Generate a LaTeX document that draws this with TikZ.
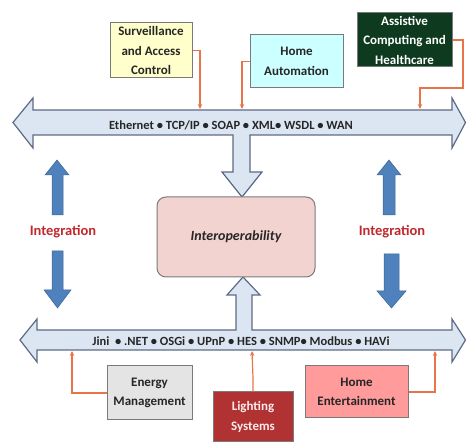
\documentclass[tikz,border=0pt]{standalone}
\usepackage{fontspec}
\setmainfont{Carlito}
\usetikzlibrary{arrows.meta}
\definecolor{busfill}{HTML}{DCE6F2}
\definecolor{busline}{HTML}{5B6B85}
\definecolor{bluearr}{HTML}{4F81BD}
\definecolor{bluedark}{HTML}{3A6496}
\definecolor{conn}{HTML}{E8744A}
\definecolor{intred}{HTML}{C0282D}
\definecolor{interfill}{HTML}{F2D3D0}
\definecolor{boxline}{HTML}{7A7A7A}
\definecolor{survfill}{HTML}{FFFFCC}
\definecolor{hafill}{HTML}{CCFFFF}
\definecolor{acfill}{HTML}{0E3B1F}
\definecolor{emfill}{HTML}{E4E4E4}
\definecolor{lsfill}{HTML}{B03232}
\definecolor{hefill}{HTML}{FF9B9B}
\definecolor{txt}{HTML}{262626}
\tikzset{
  bus/.style={draw=busline, fill=busfill, line width=1.2pt, line join=miter},
  blk/.style={draw=boxline, line width=1pt, align=center, font=\bfseries\fontsize{13}{19.5}\selectfont, inner sep=0pt},
  conn/.style={draw=conn, line width=1.2pt, -{Stealth[length=5pt,width=4.5pt]}},
  intarr/.style={fill=bluearr, draw=bluedark, line width=0.5pt},
  intlabel/.style={text=intred, font=\bfseries\fontsize{14.5}{16}\selectfont},
  bustext/.style={text=txt, font=\bfseries\fontsize{12.5}{14}\selectfont}
}
\begin{document}
\begin{tikzpicture}[x=1pt,y=-1pt]
\useasboundingbox (0,0) rectangle (467,443);
% top bus with down stem
\draw[bus] (13,122.5) -- (33,98) -- (33,110) -- (452,110) -- (452,98) -- (465.5,122.5)
  -- (452,148) -- (452,135) -- (250,135) -- (250,172) -- (262,172) -- (242,197)
  -- (222,172) -- (233,172) -- (233,135) -- (33,135) -- (33,148) -- cycle;
\node[bustext] (topt) at (231,125) {Ethernet • TCP/IP • SOAP • XML• WSDL • WAN};
% bottom bus with up stem
\draw[bus] (20,340) -- (37,319) -- (37,330) -- (236,330) -- (236,295) -- (227,295)
  -- (243,277) -- (260,295) -- (252,295) -- (252,330) -- (452,330) -- (452,319)
  -- (465.5,340) -- (452,362) -- (452,350) -- (37,350) -- (37,362) -- cycle;
\node[bustext] (bott) at (241,341) {Jini \ • .NET • OSGi • UPnP • HES • SNMP• Modbus • HAVi};
% interoperability
\node[draw=boxline, fill=interfill, line width=1pt, rounded corners=9pt,
  minimum width=158pt, minimum height=80pt, text=txt,
  font=\bfseries\itshape\fontsize{14}{16}\selectfont] (inter) at (236,237) {Interoperability};
% integration arrows
\draw[intarr] (45,175) -- (57,160) -- (69,175) -- (63,175) -- (63,215) -- (52,215) -- (52,175) -- cycle;
\draw[intarr] (52,251) -- (63,251) -- (63,290) -- (71,290) -- (57.5,308) -- (44,290) -- (52,290) -- cycle;
\node[intlabel] (intl) at (63,232) {Integration};
\draw[intarr] (377,175) -- (389,160) -- (401,175) -- (395,175) -- (395,215) -- (383,215) -- (383,175) -- cycle;
\draw[intarr] (384,254) -- (399,254) -- (399,291) -- (406,291) -- (391.5,308) -- (377,291) -- (384,291) -- cycle;
\node[intlabel] (intr) at (392,232) {Integration};
% top boxes
\node[blk, fill=survfill, text=txt, minimum width=82pt, minimum height=55pt] (surv) at (151,50.5) {Surveillance\\and Access\\Control};
\node[blk, fill=hafill, text=txt, minimum width=93pt, minimum height=53pt] (ha) at (296.5,61.5) {Home\\Automation};
\node[blk, fill=acfill, text=white, minimum width=95pt, minimum height=54pt] (ac) at (404.5,40) {Assistive\\Computing~and\\Healthcare};
% bottom boxes
\node[blk, fill=emfill, text=txt, minimum width=85pt, minimum height=54pt] (em) at (149.5,393) {Energy\\Management};
\node[blk, fill=lsfill, text=white!92!red, minimum width=80pt, minimum height=50pt] (ls) at (253,417) {Lighting\\Systems};
\node[blk, fill=hefill, text=txt, minimum width=103pt, minimum height=52pt] (he) at (356.5,392) {Home\\Entertainment};
% bus attach points
\coordinate (svb) at (200,109);
\coordinate (hab) at (242,109);
\coordinate (acb) at (420,109);
\coordinate (emb) at (72,351);
\coordinate (lsb) at (252,351);
\coordinate (heb) at (435,351);
% connectors
\draw[conn] (surv.east) -| (svb);
\draw[conn] (ha.west) -| (hab);
\draw[conn] (ac.east) -- (463,40) -- (463,88) -- (420,88) -- (acb);
\draw[conn] (em.west) -| (emb);
\draw[conn] (ls.north) -- (253,378) -- (lsb);
\draw[conn] (he.east) -| (heb);
\end{tikzpicture}
\end{document}
